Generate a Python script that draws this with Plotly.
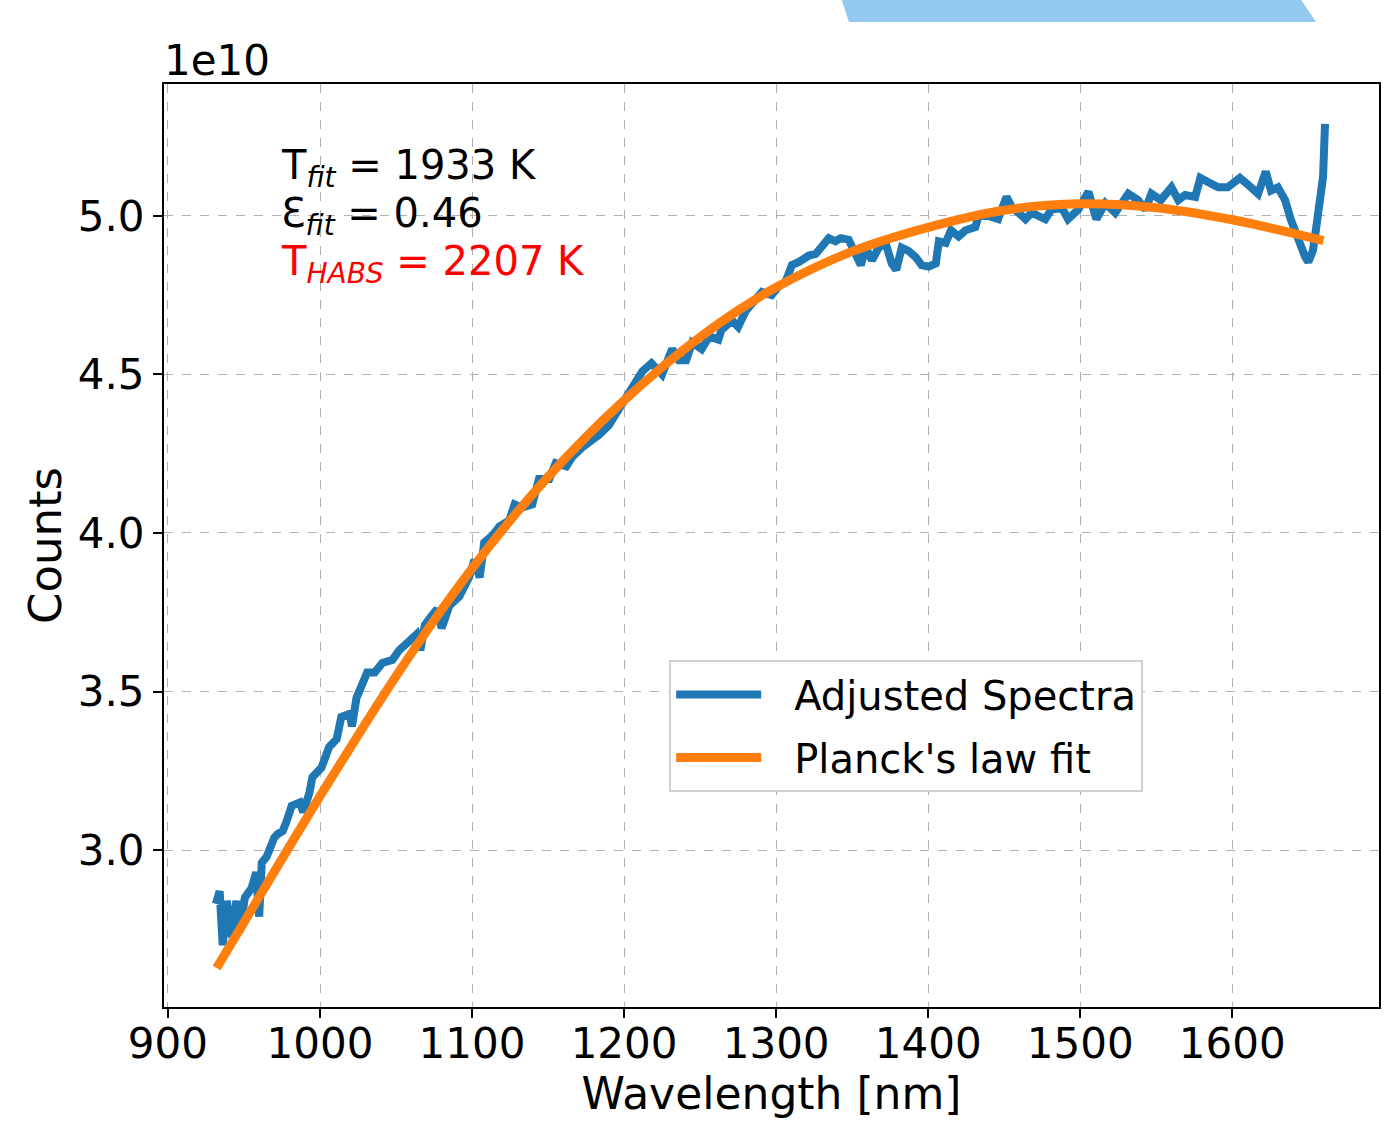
import plotly.graph_objects as go

# ---- data (counts in units of 1e10) ----
spec_wl = [931.5, 934, 936, 938.7, 942, 945, 947, 950.6, 955, 958, 960, 961.7, 965, 967, 970, 972,
           975.5, 978, 981.4, 986.7, 989, 993, 995, 1001, 1006, 1011, 1014, 1019.5, 1021, 1024, 1027,
           1031, 1036, 1041, 1047.7, 1052, 1059, 1063.5, 1066, 1069, 1072, 1077, 1080, 1085, 1091.7,
           1098, 1101.6, 1105, 1108, 1113, 1118, 1124.5, 1128, 1133, 1139.6, 1144, 1150.8, 1155, 1162,
           1166, 1172.5, 1179, 1183.6, 1190, 1196.8, 1201, 1205, 1212, 1218, 1225, 1231.6, 1236,
           1240.8, 1244.7, 1251, 1256, 1262, 1264, 1271, 1275, 1280, 1284, 1290.7, 1297, 1302, 1306,
           1310.4, 1315, 1321.5, 1326, 1330, 1334.6, 1339, 1342.5, 1347.7, 1352, 1355.7, 1359, 1363,
           1367.5, 1372, 1376, 1379, 1382.6, 1387, 1391.8, 1395.7, 1400.3, 1405, 1407, 1411.5, 1415,
           1420, 1424.6, 1431, 1433, 1437.7, 1441.7, 1446, 1451.5, 1454.8, 1459.4, 1464, 1468, 1472.5,
           1477, 1481, 1485.7, 1488, 1492, 1498.8, 1505.4, 1510.6, 1516.5, 1523, 1531.6, 1538, 1542.8,
           1546.8, 1553, 1560, 1564.5, 1569, 1575.6, 1579, 1584, 1590.7, 1597, 1602, 1605, 1610, 1617,
           1622, 1625.5, 1630, 1634.7, 1638.6, 1643, 1648, 1650, 1653, 1655, 1657.7, 1659.7, 1661]
spec_counts = [2.83, 2.87, 2.70, 2.84, 2.725, 2.84, 2.74, 2.85, 2.88, 2.93, 2.79, 2.96, 2.98, 3.01,
               3.04, 3.05, 3.06, 3.09, 3.14, 3.15, 3.12, 3.18, 3.23, 3.26, 3.325, 3.35, 3.42, 3.43,
               3.39, 3.48, 3.51, 3.56, 3.56, 3.59, 3.60, 3.63, 3.66, 3.68, 3.63, 3.71, 3.73, 3.76,
               3.70, 3.77, 3.80, 3.86, 3.915, 3.86, 3.97, 3.99, 4.02, 4.04, 4.09, 4.08, 4.09, 4.17,
               4.17, 4.22, 4.21, 4.24, 4.27, 4.29, 4.31, 4.34, 4.39, 4.43, 4.46, 4.51, 4.535, 4.50,
               4.58, 4.545, 4.545, 4.60, 4.58, 4.62, 4.61, 4.64, 4.67, 4.65, 4.70, 4.725, 4.76, 4.75,
               4.78, 4.79, 4.845, 4.855, 4.875, 4.88, 4.90, 4.93, 4.92, 4.93, 4.925, 4.88, 4.845,
               4.90, 4.86, 4.90, 4.915, 4.85, 4.83, 4.90, 4.89, 4.87, 4.845, 4.84, 4.85, 4.92, 4.915,
               4.955, 4.935, 4.955, 4.965, 4.997, 5.003, 4.997, 4.99, 5.06, 5.03, 5.01, 4.99, 5.01,
               4.997, 4.99, 5.02, 5.02, 5.025, 4.99, 5.02, 5.076, 4.99, 5.04, 5.01, 5.07, 5.05, 5.02,
               5.07, 5.05, 5.09, 5.05, 5.066, 5.06, 5.12, 5.107, 5.09, 5.09, 5.11, 5.12, 5.10, 5.07,
               5.14, 5.08, 5.09, 5.05, 4.987, 4.924, 4.87, 4.855, 4.89, 4.956, 5.04, 5.123, 5.29]

fit_wl = [932, 950, 975, 1000, 1025, 1050, 1075, 1100, 1125, 1150, 1175, 1200, 1225, 1250, 1275,
          1300, 1350, 1400, 1450, 1500, 1550, 1600, 1660]
fit_counts = [2.628, 2.772, 2.972, 3.17, 3.362, 3.548, 3.724, 3.888, 4.039, 4.177, 4.303, 4.418,
              4.523, 4.618, 4.702, 4.775, 4.888, 4.964, 5.018, 5.038, 5.026, 4.988, 4.922]

x_ticks = [900, 1000, 1100, 1200, 1300, 1400, 1500, 1600]
y_ticks = [3.0, 3.5, 4.0, 4.5, 5.0]

FONT = "DejaVu Sans"
GAP = "\u2002\u2009"  # small visual gap between legend sample and its label

fig = go.Figure()
fig.add_trace(go.Scatter(x=spec_wl, y=spec_counts, mode="lines", name=GAP + "Adjusted Spectra",
                         legendgroup="a", line=dict(color="#1f77b4", width=8)))
fig.add_trace(go.Scatter(x=fit_wl, y=fit_counts, mode="lines", name=GAP + "Planck's law fit",
                         legendgroup="b", line=dict(color="#ff7f0e", width=9, shape="spline")))

axis_common = dict(showline=True, linecolor="black", linewidth=2, mirror=True,
                   ticks="outside", ticklen=9, tickwidth=2, tickcolor="black",
                   showgrid=True, gridcolor="#b0b0b0", griddash="dash", gridwidth=1,
                   zeroline=False, tickfont=dict(family=FONT, size=42, color="black"))

fig.update_xaxes(range=[897.4, 1696.5], tickvals=x_ticks, ticklabelstandoff=-10,
                 title=dict(text="Wavelength [nm]", font=dict(family=FONT, size=44, color="black"),
                            standoff=1),
                 **axis_common)
fig.update_yaxes(range=[2.505, 5.416], tickvals=y_ticks, tickformat=".1f",
                 title=dict(text="Counts", font=dict(family=FONT, size=45, color="black"),
                            standoff=2),
                 **axis_common)

def px2paper(px, py):
    return (px - 164) / 1217, (1007 - py) / 923

# decorative shape at top
pts = [px2paper(843, 0), px2paper(1303, 0), px2paper(1318, 22), px2paper(850, 22)]
path = "M " + " L ".join(f"{a:.4f},{b:.4f}" for a, b in pts) + " Z"
fig.add_shape(type="path", path=path, xref="paper", yref="paper",
              fillcolor="#94c9ef", line=dict(width=0), layer="above")

ann_x = (279 - 164) / 1217
texts = [("T<sub><i>fit</i></sub> = 1933 K", "black", 168),
         ("Ɛ<sub><i>fit</i></sub> = 0.46", "black", 216),
         ("T<sub><i>HABS</i></sub> = 2207 K", "red", 264)]
for t, c, py in texts:
    fig.add_annotation(x=ann_x, y=(1007 - py) / 923, xref="paper", yref="paper", text=t,
                       showarrow=False, xanchor="left", yanchor="middle",
                       font=dict(family=FONT, size=40, color=c))

fig.add_annotation(x=0, y=1, xref="paper", yref="paper", text="1e10", showarrow=False,
                   xanchor="left", yanchor="bottom", yshift=-3, xshift=-2,
                   font=dict(family=FONT, size=42, color="black"))

fig.update_layout(
    width=1393, height=1133,
    margin=dict(l=164, r=12, t=84, b=126),
    paper_bgcolor="white", plot_bgcolor="white",
    font=dict(family=FONT, color="black"),
    legend=dict(x=(670 - 164) / 1217, y=(1007 - 660) / 923, xanchor="left", yanchor="top",
                bgcolor="white", bordercolor="#d0d0d0", borderwidth=2, tracegroupgap=8,
                font=dict(family=FONT, size=40, color="black"), itemwidth=85),
    showlegend=True,
)

fig.write_html("out.html")
